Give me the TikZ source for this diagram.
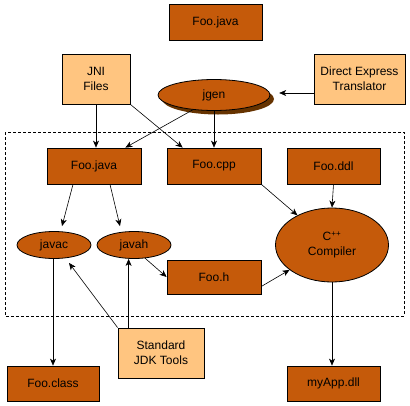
\documentclass[tikz,border=0pt]{standalone}
\usepackage{fontspec}
\setmainfont{Liberation Sans}
\usetikzlibrary{shapes.geometric, arrows.meta, calc}
\definecolor{rust}{HTML}{C55A0A}
\definecolor{peach}{HTML}{FFC580}
\definecolor{shadowbrown}{HTML}{663300}

\begin{document}
\begin{tikzpicture}[
  x=1pt, y=-1pt,
  every node/.style={font=\fontsize{12}{15}\selectfont, align=center, inner sep=0pt},
  object/.style={rectangle, draw=black, fill=rust, line width=0.8pt},
  source/.style={rectangle, draw=black, fill=peach, line width=0.8pt},
  tool/.style={ellipse, draw=black, fill=rust, line width=0.8pt},
  arrow/.style={-{Stealth[length=7pt, width=6pt, inset=2pt]}, line width=0.6pt},
  region/.style={draw=black, line width=0.8pt, dash pattern=on 3pt off 2pt}
]
\useasboundingbox (0,0) rectangle (410,405);

\draw[region] (5,132) rectangle (404,316);

\node[object, minimum width=93, minimum height=36] (javaT) at (215.5,22) {Foo.java};
\node[source, minimum width=68, minimum height=50] (JNI) at (96,79) {JNI\\Files};
\node[ellipse, fill=shadowbrown, minimum width=112, minimum height=31] (jgenS) at (218,99) {};
\node[tool, minimum width=112, minimum height=31] (jgen) at (214,95) {jgen};
\node[source, minimum width=91, minimum height=50] (DET) at (359.5,79) {Direct Express\\Translator};

\node[object, minimum width=94, minimum height=36] (javaM) at (94,166) {Foo.java};
\node[object, minimum width=94, minimum height=36] (cpp) at (214,166) {Foo.cpp};
\node[object, minimum width=93, minimum height=36] (ddl) at (333.5,166) {Foo.ddl};
\node[tool, minimum width=74, minimum height=27] (javac) at (54,245) {javac};
\node[tool, minimum width=74, minimum height=27] (javah) at (134,245) {javah};
\node[tool, minimum width=113, minimum height=74] (comp) at (332,245) {C\textsuperscript{++}\\Compiler};
\node[object, minimum width=94, minimum height=34] (fooh) at (214,277) {Foo.h};

\node[source, minimum width=86, minimum height=50] (JDK) at (161,353) {Standard\\JDK Tools};
\node[object, minimum width=92, minimum height=35] (fooclass) at (53,383.5) {Foo.class};
\node[object, minimum width=93, minimum height=35] (dll) at (333.5,383.5) {myApp.dll};

\coordinate (detOut) at ($(DET.west)+(0,14)$);
\coordinate (jdkTop) at ($(JDK.north west)+(11,0)$);
\coordinate (javacOut) at ($(javac.south)+(-1,0)$);

\draw[arrow] (detOut) -- ($(detOut -| jgenS.east)+(5,0)$);
\draw[arrow] (JNI.south) -- (JNI.south |- javaM.north);
\draw[arrow] (JNI.south east) -- ($(cpp.north west)+(16,0)$);
\draw[arrow] (jgen.215) -- ($(javaM.north east)+(-16,0)$);
\draw[arrow] (jgen.south) -- (cpp.north);
\draw[arrow] ($(javaM.south)+(-21,0)$) -- ($(javac.north)+(8,-5)$);
\draw[arrow] ($(javaM.south)+(16,0)$) -- ($(javah.north)+(-14,-5)$);
\draw[arrow] (cpp.south east) -- (comp);
\draw[arrow] (ddl.south) -- (comp.north);
\draw[arrow] (javah.-50) -- (fooh.west);
\draw[arrow] ($(fooh.south east)+(0,-8)$) -- (comp);
\draw[arrow] (javacOut) -- (javacOut |- fooclass.north);
\draw[arrow] (comp.south) -- (comp.south |- dll.north);
\draw[arrow] (JDK.north west) -- ($(javac.south)+(15,4)$);
\draw[arrow] (jdkTop) -- (jdkTop |- javah.south);

\end{tikzpicture}
\end{document}
